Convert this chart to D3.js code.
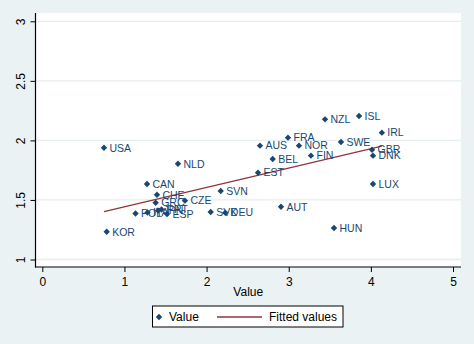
<!DOCTYPE html>
<html><head><meta charset="utf-8">
<script src="https://cdn.jsdelivr.net/npm/d3@7/dist/d3.min.js"></script>
<style>body{margin:0;background:#eaf2f3;} svg{display:block;font-family:"Liberation Sans",Arial,sans-serif;}</style>
</head><body>
<script>
const countries = ["USA","NLD","NZL","ISL","IRL","FRA","AUS","NOR","SWE","GBR","DNK","BEL","FIN","EST","LUX","AUT","HUN","SVN","SVK","DEU","CAN","CHE","GRC","CZE","POL","ITA","JPN","PRT","ESP","KOR"];
const xValues = [0.751,1.652,3.442,3.856,4.134,2.991,2.650,3.125,3.636,4.014,4.026,2.805,3.271,2.626,4.026,2.906,3.551,2.172,2.050,2.228,1.275,1.396,1.380,1.737,1.135,1.281,1.409,1.451,1.518,0.784];
const yValues = [1.938,1.804,2.177,2.205,2.065,2.023,1.956,1.956,1.987,1.922,1.872,1.844,1.872,1.729,1.634,1.443,1.264,1.575,1.399,1.393,1.634,1.544,1.477,1.494,1.386,1.395,1.411,1.420,1.382,1.233];
const fittedX = [0.751,4.134];
const fittedY = [1.402,1.951];
const xTicks = [0,1,2,3,4,5];
const yTicks = [1,1.5,2,2.5,3];
const xTitle = "Value";
const legendLabels = ["Value","Fitted values"];

const W=474,H=344;
const navy="#1a476f", maroon="#90353b";
const svg=d3.select("body").append("svg").attr("width",W).attr("height",H);
svg.append("rect").attr("width",W).attr("height",H).attr("fill","#eaf2f3");

const L=35.5,R=461,T=13,B=267;
const x=d3.scaleLinear().domain([0,5]).range([42.3,453]);
const y=d3.scaleLinear().domain([1,3]).range([259.5,21.3]);

svg.append("rect").attr("x",L).attr("y",T).attr("width",R-L).attr("height",B-T).attr("fill","#fff");

// grid
svg.append("g").selectAll("line").data(yTicks).join("line")
  .attr("x1",L).attr("x2",R).attr("y1",d=>y(d)).attr("y2",d=>y(d))
  .attr("stroke","#e6eef0").attr("stroke-width",1.3);

// axes
const gy=svg.append("g").attr("transform",`translate(${L},0)`)
  .call(d3.axisLeft(y).tickValues(yTicks).tickSize(5).tickPadding(0).tickFormat(d3.format("")));
gy.select(".domain").remove();
gy.selectAll(".tick line").attr("stroke","#000");
gy.selectAll(".tick text").attr("transform","rotate(-90)").attr("x",0).attr("y",-10.5).attr("dy",0)
  .attr("text-anchor","middle").attr("font-size",12).attr("fill","#000").attr("font-family","Liberation Sans, Arial, sans-serif");

const gx=svg.append("g").attr("transform",`translate(0,${B})`)
  .call(d3.axisBottom(x).tickValues(xTicks).tickSize(5).tickPadding(0).tickFormat(d3.format("d")));
gx.select(".domain").remove();
gx.selectAll(".tick line").attr("stroke","#000");
gx.selectAll(".tick text").attr("y",19).attr("dy",0).attr("font-size",12).attr("fill","#000").attr("font-family","Liberation Sans, Arial, sans-serif");

svg.append("line").attr("x1",L).attr("x2",L).attr("y1",T).attr("y2",B+0.5).attr("stroke","#000").attr("stroke-width",1.2);
svg.append("line").attr("x1",L-0.5).attr("x2",R).attr("y1",B).attr("y2",B).attr("stroke","#000").attr("stroke-width",1.2);

svg.append("text").attr("x",(L+R)/2).attr("y",296).attr("text-anchor","middle").attr("font-size",12).text(xTitle);

// fitted line
const line=d3.line().x(d=>x(d[0])).y(d=>y(d[1]));
svg.append("path").datum(d3.zip(fittedX,fittedY)).attr("d",line).attr("fill","none").attr("stroke",maroon).attr("stroke-width",1.3);

// points
const data=countries.map((c,i)=>({c,x:xValues[i],y:yValues[i]}));
const diamond=d3.symbol().type(d3.symbolDiamond2).size(26);
svg.append("g").selectAll("path").data(data).join("path")
  .attr("d",diamond).attr("transform",d=>`translate(${x(d.x)},${y(d.y)})`).attr("fill",navy);
svg.append("g").selectAll("text").data(data).join("text")
  .attr("x",d=>x(d.x)+5.5).attr("y",d=>y(d.y)+3.8).attr("font-size",10.5).attr("fill",navy).text(d=>d.c);

// legend
const lg=svg.append("g");
lg.append("rect").attr("x",152.5).attr("y",306).attr("width",190.5).attr("height",21).attr("fill","#fff").attr("stroke","#000").attr("stroke-width",1);
lg.append("path").attr("d",diamond).attr("transform","translate(159,317)").attr("fill",navy);
lg.append("text").attr("x",169).attr("y",321).attr("font-size",12).text(legendLabels[0]);
lg.append("line").attr("x1",217).attr("x2",262).attr("y1",317).attr("y2",317).attr("stroke",maroon).attr("stroke-width",1.3);
lg.append("text").attr("x",269).attr("y",321).attr("font-size",12).text(legendLabels[1]);
</script>
</body></html>
